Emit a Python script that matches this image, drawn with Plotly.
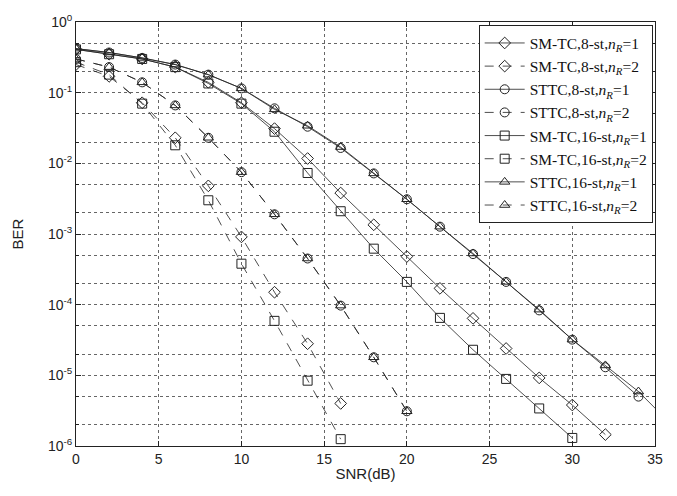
import plotly.graph_objects as go

snr_a = [0, 2, 4, 6, 8, 10, 12, 14, 16, 18, 20, 22, 24, 26, 28, 30, 32]
smtc8_r1 = [0.41, 0.35, 0.30, 0.23, 0.14, 0.072, 0.031, 0.0117, 3.8e-3, 1.35e-3, 4.8e-4, 1.7e-4, 6.4e-5, 2.4e-5, 9.2e-6, 3.8e-6, 1.45e-6]
snr_b = [0, 2, 4, 6, 8, 10, 12, 14, 16]
smtc8_r2 = [0.25, 0.17, 0.072, 0.023, 4.8e-3, 9.1e-4, 1.5e-4, 2.8e-5, 4.0e-6]
snr_c = [0, 2, 4, 6, 8, 10, 12, 14, 16, 18, 20, 22, 24, 26, 28, 30, 32, 34]
sttc8_r1 = [0.42, 0.37, 0.31, 0.25, 0.18, 0.115, 0.060, 0.033, 0.0165, 7.2e-3, 3.1e-3, 1.27e-3, 5.2e-4, 2.1e-4, 8.3e-5, 3.2e-5, 1.3e-5, 5.0e-6]
snr_d = [0, 2, 4, 6, 8, 10, 12, 14, 16, 18, 20]
sttc8_r2 = [0.30, 0.23, 0.14, 0.066, 0.023, 7.5e-3, 1.9e-3, 4.5e-4, 9.7e-5, 1.8e-5, 3.1e-6]
snr_e = [0, 2, 4, 6, 8, 10, 12, 14, 16, 18, 20, 22, 24, 26, 28, 30]
smtc16_r1 = [0.41, 0.35, 0.30, 0.23, 0.135, 0.070, 0.028, 7.3e-3, 2.1e-3, 6.2e-4, 2.1e-4, 6.5e-5, 2.3e-5, 8.9e-6, 3.4e-6, 1.3e-6]
smtc16_r2 = [0.27, 0.18, 0.070, 0.018, 3.0e-3, 3.8e-4, 5.9e-5, 8.4e-6, 1.25e-6]
snr_f = [0, 2, 4, 6, 8, 10, 12, 14, 16, 18, 20, 22, 24, 26, 28, 30, 32, 34, 36]
sttc16_r1 = [0.42, 0.37, 0.31, 0.25, 0.18, 0.115, 0.058, 0.034, 0.017, 7.2e-3, 3.1e-3, 1.27e-3, 5.3e-4, 2.1e-4, 8.5e-5, 3.2e-5, 1.38e-5, 5.9e-6, 2.0e-6]
sttc16_r2 = [0.30, 0.23, 0.14, 0.066, 0.023, 7.5e-3, 1.9e-3, 4.5e-4, 9.7e-5, 1.8e-5, 3.1e-6]

names = ["SM-TC,8-st,", "SM-TC,8-st,", "STTC,8-st,", "STTC,8-st,",
         "SM-TC,16-st,", "SM-TC,16-st,", "STTC,16-st,", "STTC,16-st,"]
nr = ["1", "2", "1", "2", "1", "2", "1", "2"]
xs = [snr_a, snr_b, snr_c, snr_d, snr_e, snr_b, snr_f, snr_d]
ys = [smtc8_r1, smtc8_r2, sttc8_r1, sttc8_r2, smtc16_r1, smtc16_r2, sttc16_r1, sttc16_r2]
symbols = ["diamond-open", "diamond-open", "circle-open", "circle-open",
           "square-open", "square-open", "triangle-up-open", "triangle-up-open"]
dashes = ["solid", "dash", "solid", "dash", "solid", "dash", "solid", "dash"]

fig = go.Figure()
for i in range(8):
    label = names[i] + "<i>n</i><sub><i>R</i></sub>=" + nr[i]
    fig.add_trace(go.Scatter(
        x=xs[i], y=ys[i], mode="lines+markers", name=label,
        line=dict(color="#222", width=0.8, dash=dashes[i]),
        marker=dict(symbol=symbols[i], size=9, color="#222",
                    line=dict(color="#222", width=1)),
    ))

yt = [1e0, 1e-1, 1e-2, 1e-3, 1e-4, 1e-5, 1e-6]
ytt = ["10<sup>0</sup>", "10<sup>-1</sup>", "10<sup>-2</sup>", "10<sup>-3</sup>",
       "10<sup>-4</sup>", "10<sup>-5</sup>", "10<sup>-6</sup>"]

grid_col = "#666"
fig.update_layout(
    width=677, height=496,
    margin=dict(l=76, r=22, t=14, b=50),
    plot_bgcolor="white", paper_bgcolor="white",
    font=dict(family="Liberation Sans, Arial", size=14, color="#222"),
    showlegend=True,
    legend=dict(x=0.996, y=0.992, xanchor="right", yanchor="top",
                bgcolor="white", bordercolor="#222", borderwidth=1,
                font=dict(family="Liberation Serif, Times New Roman", size=15.5, color="#111"),
                tracegroupgap=0, itemwidth=40),
    xaxis=dict(range=[0, 35], tickvals=[0, 5, 10, 15, 20, 25, 30, 35],
               title=dict(text="SNR(dB)", standoff=2, font=dict(size=15)),
               showline=True, linecolor="#222", linewidth=1, mirror="ticks",
               ticks="inside", ticklen=5, tickcolor="#222",
               showgrid=True, gridcolor=grid_col, griddash="dot", gridwidth=0.7,
               zeroline=False),
    yaxis=dict(type="log", range=[-6, 0], tickvals=yt, ticktext=ytt,
               title=dict(text="BER", standoff=20, font=dict(size=15)),
               showline=True, linecolor="#222", linewidth=1, mirror="ticks",
               ticks="inside", ticklen=5, tickcolor="#222",
               showgrid=True, gridcolor=grid_col, griddash="dot", gridwidth=0.7,
               minor=dict(showgrid=True, gridcolor=grid_col, griddash="dot", gridwidth=0.7,
                          ticks="inside", ticklen=3, tickcolor="#222"),
               zeroline=False),
)

fig.write_html("out.html")
